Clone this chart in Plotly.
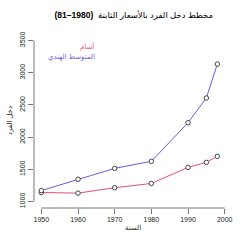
import plotly.graph_objects as go

years = [1950, 1960, 1970, 1980, 1990, 1995, 1998]
india = [1170, 1346, 1515, 1624, 2223, 2607, 3133]
assam = [1140, 1131, 1214, 1281, 1530, 1608, 1702]
xticks = [1950, 1960, 1970, 1980, 1990, 2000]
yticks = [1000, 1500, 2000, 2500, 3000, 3500]

title = "مخطط دخل الفرد بالأسعار الثابتة  <b>(1980–81)</b>"
xlabel = "السنة"
ylabel = "دخل الفرد"
name_assam = "آسام"
name_india = "المتوسط الهندي"

FONT = "Liberation Sans, DejaVu Sans, sans-serif"
blue = "#6a5ae6"
red = "#e8506a"
axis_col = "#777777"

fig = go.Figure()
fig.add_trace(go.Scatter(x=years, y=assam, mode="lines+markers", name=name_assam,
                         line=dict(color=red, width=1),
                         marker=dict(symbol="circle", size=4.5, color="white",
                                     line=dict(color="#444444", width=1))))
fig.add_trace(go.Scatter(x=years, y=india, mode="lines+markers", name=name_india,
                         line=dict(color=blue, width=1),
                         marker=dict(symbol="circle", size=4.5, color="white",
                                     line=dict(color="#444444", width=1))))

# legend text (R style, no symbols)
fig.add_annotation(x=1965.2, y=3402, xref="x", yref="y", text=name_assam, showarrow=False,
                   xanchor="right", yanchor="middle", font=dict(family=FONT, size=7, color=red))
fig.add_annotation(x=1965.2, y=3242, xref="x", yref="y", text=name_india, showarrow=False,
                   xanchor="right", yanchor="middle", font=dict(family=FONT, size=7, color=blue))

# y axis title
fig.add_annotation(x=-0.12, y=0.5, xref="paper", yref="paper", text=ylabel, showarrow=False,
                   textangle=-90, xanchor="center", yanchor="middle",
                   font=dict(family=FONT, size=7, color="#222222"))

# axis lines spanning only the tick range (R style)
fig.add_shape(type="line", xref="x", yref="paper", x0=xticks[0], x1=xticks[-1], y0=0, y1=0,
              line=dict(color=axis_col, width=1))
fig.add_shape(type="line", xref="paper", yref="y", x0=0, x1=0, y0=yticks[0], y1=yticks[-1],
              line=dict(color=axis_col, width=1))

fig.update_layout(
    width=250, height=250,
    margin=dict(l=34, r=18, t=34, b=42),
    plot_bgcolor="white", paper_bgcolor="white",
    showlegend=False,
    title=dict(text=title, x=0.535, xanchor="center", y=0.94, yanchor="middle",
               font=dict(family=FONT, size=8.5, color="black")),
    xaxis=dict(range=[1948, 2002], tickvals=xticks, showgrid=False, zeroline=False,
               showline=False, ticks="outside", ticklen=5, tickcolor=axis_col,
               tickfont=dict(family=FONT, size=7, color="#222222"),
               title=dict(text=xlabel, font=dict(family=FONT, size=7, color="#222222"), standoff=2)),
    yaxis=dict(range=[900, 3600], tickvals=yticks, showgrid=False, zeroline=False,
               showline=False, ticks="outside", ticklen=5, tickcolor=axis_col, tickangle=-90,
               automargin=False,
               tickfont=dict(family=FONT, size=7, color="#222222")),
)

fig.write_html("out.html")
